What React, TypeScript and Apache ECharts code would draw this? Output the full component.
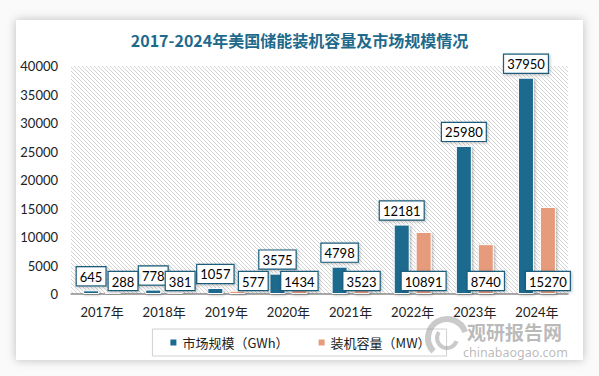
import React, { useEffect, useRef } from "react";
import * as echarts from "echarts";

const categories = ["2017年", "2018年", "2019年", "2020年", "2021年", "2022年", "2023年", "2024年"];
const marketSize = [645, 778, 1057, 3575, 4798, 12181, 25980, 37950];
const installed = [288, 381, 577, 1434, 3523, 10891, 8740, 15270];
const seriesNames = ["市场规模（GWh）", "装机容量（MW）"];
const titleText = "2017-2024年美国储能装机容量及市场规模情况";

function makeHatch(): HTMLCanvasElement {
  const c = document.createElement("canvas");
  c.width = 4;
  c.height = 4;
  const ctx = c.getContext("2d")!;
  ctx.fillStyle = "#ffffff";
  ctx.fillRect(0, 0, 4, 4);
  ctx.strokeStyle = "#d4d4d4";
  ctx.lineWidth = 1;
  ctx.beginPath();
  ctx.moveTo(0, 0);
  ctx.lineTo(4, 4);
  ctx.moveTo(-1, 3);
  ctx.lineTo(1, 5);
  ctx.moveTo(3, -1);
  ctx.lineTo(5, 1);
  ctx.stroke();
  return c;
}

export default function App() {
  const ref = useRef<HTMLDivElement>(null);
  useEffect(() => {
    if (!ref.current) return;
    const chart = echarts.init(ref.current, undefined, { renderer: "svg" });
    const labelBase = {
      show: true,
      color: "#000",
      fontSize: 13,
      fontFamily: "Lato, 'Noto Sans', sans-serif",
      backgroundColor: "#fff",
      borderColor: "#1d5d7c",
      borderWidth: 1.2,
      padding: [3, 3, 2, 3],
      shadowColor: "rgba(0,0,0,0.25)",
      shadowBlur: 3,
      shadowOffsetX: 1,
      shadowOffsetY: 1,
    };
    const barShadow = {
      borderColor: "#ffffff",
      borderWidth: 1,
      shadowColor: "rgba(0,0,0,0.3)",
      shadowBlur: 3,
      shadowOffsetX: 1,
      shadowOffsetY: 1,
    };
    // horizontal nudges of the 装机容量 labels (as in the reference, to avoid overlap)
    const installedLabelDx = [10, 5, 16, 0, 0, 0, 0, 0];
    chart.setOption({
      animation: false,
      graphic: [
        {
          type: "rect",
          z: -10,
          shape: { x: 16, y: 20, width: 567, height: 340 },
          style: { fill: "#fff", shadowBlur: 10, shadowColor: "rgba(0,0,0,0.25)" },
          silent: true,
        },
        {
          type: "arc",
          shape: { cx: 447, cy: 338, r: 19, startAngle: Math.PI * 0.75, endAngle: Math.PI * 1.9 },
          style: { stroke: "rgba(150,150,150,0.5)", lineWidth: 6, fill: "none" },
          z: 100,
          silent: true,
        },
        {
          type: "arc",
          shape: { cx: 447, cy: 338, r: 10, startAngle: Math.PI * 0.1, endAngle: Math.PI * 1.2 },
          style: { stroke: "rgba(150,150,150,0.5)", lineWidth: 4, fill: "none" },
          z: 100,
          silent: true,
        },
        {
          type: "text",
          x: 467,
          y: 322,
          z: 100,
          style: {
            text: "观研报告网",
            fontSize: 19,
            lineHeight: 19,
            fontWeight: "bold",
            fill: "rgba(140,140,140,0.6)",
            fontFamily: "'Noto Sans CJK SC'",
          },
          silent: true,
        },
        {
          type: "text",
          x: 463,
          y: 346,
          z: 100,
          style: {
            text: "chinabaogao.com",
            fontSize: 12.5,
            lineHeight: 12,
            fill: "rgba(140,140,140,0.6)",
            fontFamily: "'Noto Sans', sans-serif",
          },
          silent: true,
        },
      ],
      title: {
        text: titleText,
        left: "center",
        top: 27,
        textStyle: {
          fontSize: 16,
          fontWeight: "bold",
          color: "#1e6a8c",
          fontFamily: "'Noto Sans CJK SC'",
        },
      },
      legend: {
        bottom: 20,
        left: "center",
        icon: "rect",
        itemWidth: 8,
        itemHeight: 8,
        itemGap: 28,
        borderColor: "#d0d0d0",
        borderWidth: 1,
        borderRadius: 0,
        padding: [7, 16, 7, 16],
        textStyle: { fontSize: 13, color: "#222", fontFamily: "'Noto Sans CJK SC'" },
        data: seriesNames,
      },
      grid: {
        left: 71,
        right: 31,
        top: 66,
        bottom: 82,
        show: true,
        borderWidth: 0,
        backgroundColor: { image: makeHatch(), repeat: "repeat" },
      },
      xAxis: {
        type: "category",
        data: categories,
        axisLine: { lineStyle: { color: "#8c8c8c", width: 1.5 } },
        axisTick: { show: false },
        axisLabel: {
          color: "#222",
          fontSize: 13,
          lineHeight: 13,
          margin: 11,
          fontFamily: "Lato, 'Noto Sans CJK SC'",
        },
      },
      yAxis: {
        type: "value",
        min: 0,
        max: 40000,
        interval: 5000,
        splitLine: { show: false },
        axisLine: { show: false },
        axisTick: { show: false },
        axisLabel: {
          color: "#222",
          fontSize: 13,
          margin: 13,
          fontFamily: "Lato, 'Noto Sans', sans-serif",
          formatter: (v: number) => String(v),
        },
      },
      series: [
        {
          name: seriesNames[0],
          type: "bar",
          data: marketSize,
          barWidth: 16,
          barGap: "37%",
          itemStyle: { color: "#1b6a8e", ...barShadow },
          label: { ...labelBase, position: "top", distance: 5 },
        },
        {
          name: seriesNames[1],
          type: "bar",
          data: installed.map((v, i) => ({
            value: v,
            label: { offset: [installedLabelDx[i], 0] },
          })),
          barWidth: 16,
          itemStyle: { color: "#e69b7b", ...barShadow },
          label: { ...labelBase, position: "insideBottom", distance: 4 },
        },
      ],
    });
    return () => chart.dispose();
  }, []);
  return (
    <div
      ref={ref}
      style={{ position: "fixed", left: 0, top: 0, width: 599, height: 376, background: "#fafafa" }}
    />
  );
}
